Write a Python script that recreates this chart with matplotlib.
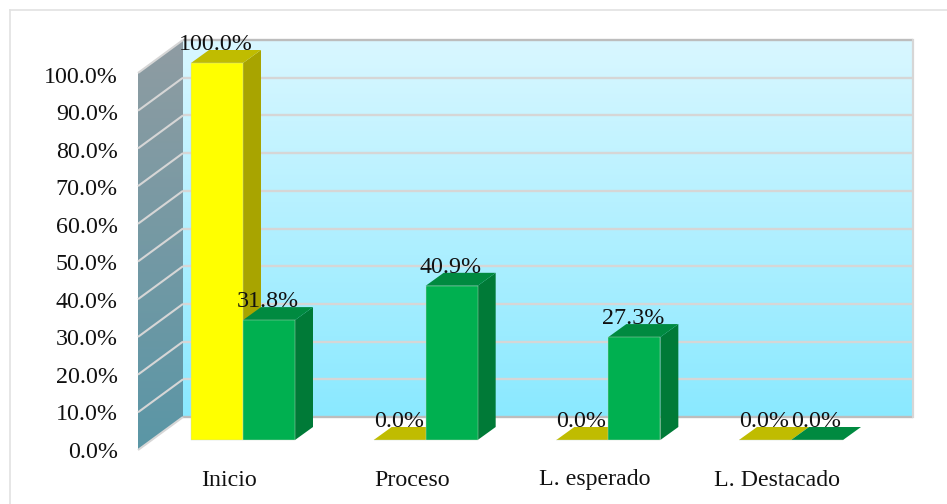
import numpy as np
import matplotlib
matplotlib.use('Agg')
import matplotlib.pyplot as plt
from matplotlib.colors import LinearSegmentedColormap
from matplotlib.patches import Polygon

categorias = ['Inicio', 'Proceso', 'L. esperado', 'L. Destacado']
serie_amarilla = [100.0, 0.0, 0.0, 0.0]
serie_verde = [31.8, 40.9, 27.3, 0.0]
ticks = [0, 10, 20, 30, 40, 50, 60, 70, 80, 90, 100]

plt.rcParams['font.family'] = ['Liberation Serif', 'DejaVu Serif']
W, H = 947, 504
fig = plt.figure(figsize=(W / 100, H / 100), dpi=100)
ax = fig.add_axes([0, 0, 1, 1])

# escala: una categoria = 182.67 px, 1% = 3.77 px, origen de barras en (243, 440)
PX = 182.67
PY = 3.77
ax.set_xlim(-243 / PX, (W - 243) / PX)
ax.set_ylim((440 - H) / PY, 440 / PY)
ax.axis('off')

def dx(px):
    return px / PX

def dy(px):
    return px / PY

# marco
ax.plot([dx(10 - 243), dx(10 - 243)], [dy(440 - H), dy(440 - 10)], color='#e2e2e2', lw=1.2, zorder=1)
ax.plot([dx(10 - 243), dx(W - 243)], [dy(440 - 10), dy(440 - 10)], color='#e2e2e2', lw=1.2, zorder=1)

# paredes
xl = dx(138 - 243)   # borde frontal de la pared
xb = dx(183 - 243)   # fondo
xr = dx(913 - 243)
y0_f = dy(-10)       # 0% al frente
y0_b = dy(23)        # 0% al fondo
top = 100

fondo = LinearSegmentedColormap.from_list('fondo', ['#8ae9ff', '#d9f7ff'])
grad = np.linspace(0, 1, 256).reshape(-1, 1)
ax.imshow(grad, origin='lower', cmap=fondo, aspect='auto',
          extent=[xb, xr, y0_b, y0_b + top], zorder=2)

pared = LinearSegmentedColormap.from_list('pared', ['#5a96a6', '#8f9ca2'])
im = ax.imshow(grad, origin='lower', cmap=pared, aspect='auto',
               extent=[xl, xb, y0_f, y0_b + top], zorder=2)
poly = Polygon([(xl, y0_f), (xb, y0_b), (xb, y0_b + top), (xl, y0_f + top)],
               closed=True, transform=ax.transData, fc='none', ec='none')
ax.add_patch(poly)
im.set_clip_path(poly)
ax.set_xlim(-243 / PX, (W - 243) / PX)
ax.set_ylim((440 - H) / PY, 440 / PY)

# rejilla
gris = '#d6d6d6'
for t in ticks:
    c = '#bdbdbd' if t in (0, 100) else gris
    ax.plot([xb, xr], [y0_b + t, y0_b + t], color=c, lw=1.7, zorder=3, solid_capstyle='butt')
    ax.plot([xl, xb], [y0_f + t, y0_b + t], color=gris, lw=1.5, zorder=3, solid_capstyle='butt')
    # las etiquetas van un poco mas juntas que la rejilla
    ax.text(dx(118 - 243), y0_f + t * 0.995 - dy(2.5), '%.1f%%' % t, ha='right', va='center', fontsize=17.3,
            color='#111111', zorder=8)
ax.plot([xr, xr], [y0_b, y0_b + top], color=gris, lw=1.6, zorder=3)

# barras
ancho = 52 / PX
prof_x = dx(18)
prof_y = dy(13)

def barras3d(xs, valores, frente, lado, arriba, z):
    ax.bar(xs, valores, width=ancho, color=frente, align='center', zorder=z + 1,
           edgecolor='#c8d8c8', linewidth=0.3)
    for x, v in zip(xs, valores):
        izq, der = x - ancho / 2, x + ancho / 2
        if v > 0:
            ax.add_patch(Polygon([(der, 0), (der + prof_x, prof_y), (der + prof_x, v + prof_y), (der, v)],
                                 closed=True, fc=lado, ec='none', zorder=z))
        ax.add_patch(Polygon([(izq, v), (der, v), (der + prof_x, v + prof_y), (izq + prof_x, v + prof_y)],
                             closed=True, fc=arriba, ec='none', zorder=z))
        ax.text(x - dx(1), v + prof_y, '%.1f%%' % v, ha='center', va='baseline', fontsize=17.3,
                color='#111111', zorder=9)

pos = np.arange(len(categorias))
barras3d(pos - ancho / 2, serie_amarilla, '#ffff00', '#a8a400', '#c0bc00', 5)
barras3d(pos + ancho / 2, serie_verde, '#00b050', '#007a37', '#008a40', 6)

# etiquetas de categorias
for x, c in zip(pos, categorias):
    ax.text(x - dx(14), dy(440 - 480), c, ha='center', va='center', fontsize=17.2, color='#111111', zorder=8)

fig.savefig('out.png', dpi=100)
